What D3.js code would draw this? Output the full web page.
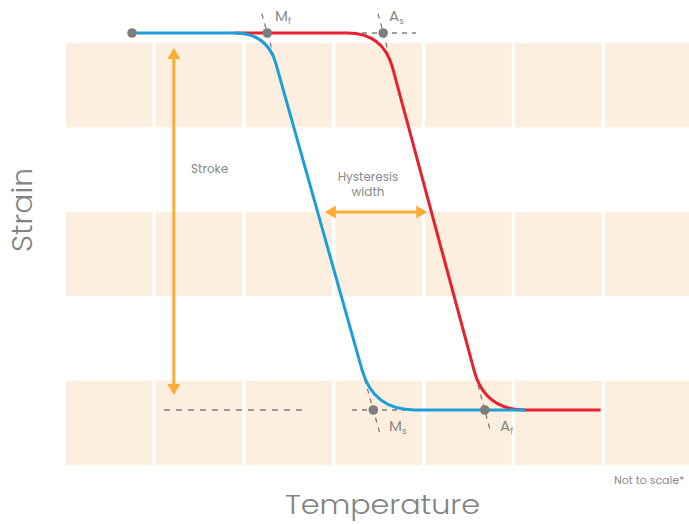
<!DOCTYPE html>
<html><head><meta charset="utf-8">
<script src="https://cdn.jsdelivr.net/npm/d3@7"></script>
<style>body{margin:0;background:#fff}svg{display:block}text{font-family:Poppins,"Lato","Open Sans",sans-serif}</style>
</head><body><div id="chart"></div>
<script>
// ---- data ----
const tempBands = ["T1","T2","T3","T4","T5","T6","T7"];
const strainBands = ["high","mid","low"];
// temperatures (arbitrary units, not to scale)
const startTemp = 7.35, endTemp = 59.5;
const transTemps = {Mf: 22.4, Ms: 34.2, As: 35.3, Af: 46.6};
const kneeBlue = {top: 18.8, bottom: 38.8};   // where cooling curve leaves/joins the plateaus
const kneeRed  = {top: 31.3, bottom: 51.1};   // heating curve
const strainHigh = 1, strainLow = 0;
const strokeArrow = {temp: 12.0, from: 0.96, to: 0.04};
const hystArrow = {strain: 0.525, from: 28.8, to: 40.2};
const baselineDash = {from: 10.9, to: 26.4};

const W = 689, H = 524;
const svg = d3.select("#chart").append("svg").attr("width", W).attr("height", H);

const x = d3.scaleLinear().domain([0, 70]).range([66, 695]);
const y = d3.scaleLinear().domain([strainLow, strainHigh]).range([410, 33]);
const xb = d3.scaleBand().domain(tempBands).range([66, 691.3]).paddingInner(0.037);
const yb = d3.scaleBand().domain(strainBands).range([43, 465]).paddingInner(0.5);

// background blocks
const cells = [];
strainBands.forEach(r => tempBands.forEach(c => cells.push({r, c})));
svg.append("g").selectAll("rect").data(cells).join("rect")
  .attr("x", d => xb(d.c)).attr("y", d => yb(d.r))
  .attr("width", d => d.c === "T7" ? W - xb(d.c) : xb.bandwidth())
  .attr("height", yb.bandwidth()).attr("fill", "#fdefe0");

const gray = "#7d7d7d";
const yT = y(strainHigh), yB = y(strainLow);

function unit(a, b){const dx=b[0]-a[0], dy=b[1]-a[1], l=Math.hypot(dx,dy);return [dx/l, dy/l];}
function curvePath(x0, kneeTop, tTop, tBot, kneeBot, x1){
  const P = [x(tTop), yT], Q = [x(tBot), yB];
  const u = unit(P, Q);
  const r1 = x(tTop) - x(kneeTop), r2 = x(kneeBot) - x(tBot);
  const p = d3.path();
  p.moveTo(x(x0), yT);
  p.lineTo(x(kneeTop), yT);
  p.quadraticCurveTo(P[0], P[1], P[0] + u[0]*r1, P[1] + u[1]*r1);
  p.lineTo(Q[0] - u[0]*r2, Q[1] - u[1]*r2);
  p.quadraticCurveTo(Q[0], Q[1], x(kneeBot), yB);
  p.lineTo(x(x1), yB);
  return p.toString();
}

// dashed helper lines
const dashG = svg.append("g").attr("stroke", gray).attr("stroke-width", 1.3)
  .attr("stroke-dasharray", "5,5").attr("fill", "none");
function tangent(tTop, tBot, atTop, ext1, ext2){
  const P=[x(tTop),yT], Q=[x(tBot),yB]; const u=unit(P,Q);
  const c = atTop ? P : Q;
  dashG.append("line").attr("x1", c[0]-u[0]*ext1).attr("y1", c[1]-u[1]*ext1)
    .attr("x2", c[0]+u[0]*ext2).attr("y2", c[1]+u[1]*ext2);
}
tangent(transTemps.Mf, transTemps.Ms, true, 20, 24);
tangent(transTemps.As, transTemps.Af, true, 20, 18);
tangent(transTemps.Mf, transTemps.Ms, false, 32, 23);
tangent(transTemps.As, transTemps.Af, false, 36, 23);
dashG.append("line").attr("x1", 362).attr("x2", 416).attr("y1", yT).attr("y2", yT);
dashG.append("line").attr("x1", 352).attr("x2", 405).attr("y1", yB).attr("y2", yB);
dashG.append("line").attr("x1", x(baselineDash.from)).attr("x2", x(baselineDash.to))
  .attr("y1", yB).attr("y2", yB).attr("stroke-dasharray", "6,6");

// curves
svg.append("path").attr("d", curvePath(kneeBlue.top, kneeRed.top, transTemps.As, transTemps.Af, kneeRed.bottom, endTemp))
  .attr("fill","none").attr("stroke","#e8202f").attr("stroke-width",3);
svg.append("path").attr("d", curvePath(startTemp, kneeBlue.top, transTemps.Mf, transTemps.Ms, kneeBlue.bottom, kneeRed.bottom))
  .attr("fill","none").attr("stroke","#1c9fd8").attr("stroke-width",3);

// dots
const dots = [[startTemp, strainHigh],[transTemps.Mf, strainHigh],[transTemps.As, strainHigh],[transTemps.Ms, strainLow],[transTemps.Af, strainLow]];
svg.append("g").selectAll("circle").data(dots).join("circle")
  .attr("cx", d => x(d[0])).attr("cy", d => y(d[1])).attr("r", 4.8).attr("fill", gray);

// arrows
const orange = "#fbad35";
function arrowHead(tx, ty, dir){
  const L = 11, Wd = 6.5;
  const bx = tx - dir[0]*L, by = ty - dir[1]*L;
  const nx = -dir[1], ny = dir[0];
  svg.append("path").attr("d", `M${tx},${ty}L${bx+nx*Wd},${by+ny*Wd}L${bx-nx*Wd},${by-ny*Wd}Z`).attr("fill", orange);
}
const sx = x(strokeArrow.temp), sy1 = y(strokeArrow.from), sy2 = y(strokeArrow.to);
svg.append("line").attr("x1", sx).attr("x2", sx).attr("y1", sy1+8).attr("y2", sy2-8).attr("stroke", orange).attr("stroke-width", 3);
arrowHead(sx, sy1, [0,-1]); arrowHead(sx, sy2, [0,1]);
const hy = y(hystArrow.strain), hx1 = x(hystArrow.from), hx2 = x(hystArrow.to);
svg.append("line").attr("x1", hx1+8).attr("x2", hx2-8).attr("y1", hy).attr("y2", hy).attr("stroke", orange).attr("stroke-width", 3);
arrowHead(hx1, hy, [-1,0]); arrowHead(hx2, hy, [1,0]);

// labels
const tcol = "#8a8a8a";
svg.append("text").attr("x", 191).attr("y", 172.5).attr("font-size", 12).attr("fill", tcol).text("Stroke");
svg.append("text").attr("x", 368).attr("y", 180.5).attr("text-anchor","middle").attr("font-size", 12).attr("fill", tcol).text("Hysteresis");
svg.append("text").attr("x", 368).attr("y", 196).attr("text-anchor","middle").attr("font-size", 12).attr("fill", tcol).text("width");

function subLabel(px, py, main, sub){
  const t = svg.append("text").attr("x", px).attr("y", py).attr("font-size", 15).attr("fill", tcol);
  t.append("tspan").text(main);
  t.append("tspan").attr("font-size", 9).attr("dy", 3).text(sub);
}
subLabel(275, 21, "M", "f");
subLabel(389, 21, "A", "s");
subLabel(389, 431, "M", "s");
subLabel(500, 431, "A", "f");

svg.append("text").attr("x", 614).attr("y", 484).attr("font-size", 11).attr("fill", tcol).text("Not to scale*");
svg.append("text").attr("x", 285).attr("y", 514).attr("font-size", 27).attr("font-weight", 300)
  .attr("fill", "#7e8482").attr("textLength", 195).attr("lengthAdjust","spacingAndGlyphs").text("Temperature");
svg.append("text").attr("transform", "translate(32,252) rotate(-90)").attr("font-size", 29).attr("font-weight", 300)
  .attr("fill", "#7e8482").attr("textLength", 84).attr("lengthAdjust","spacingAndGlyphs").text("Strain");
</script></body></html>
